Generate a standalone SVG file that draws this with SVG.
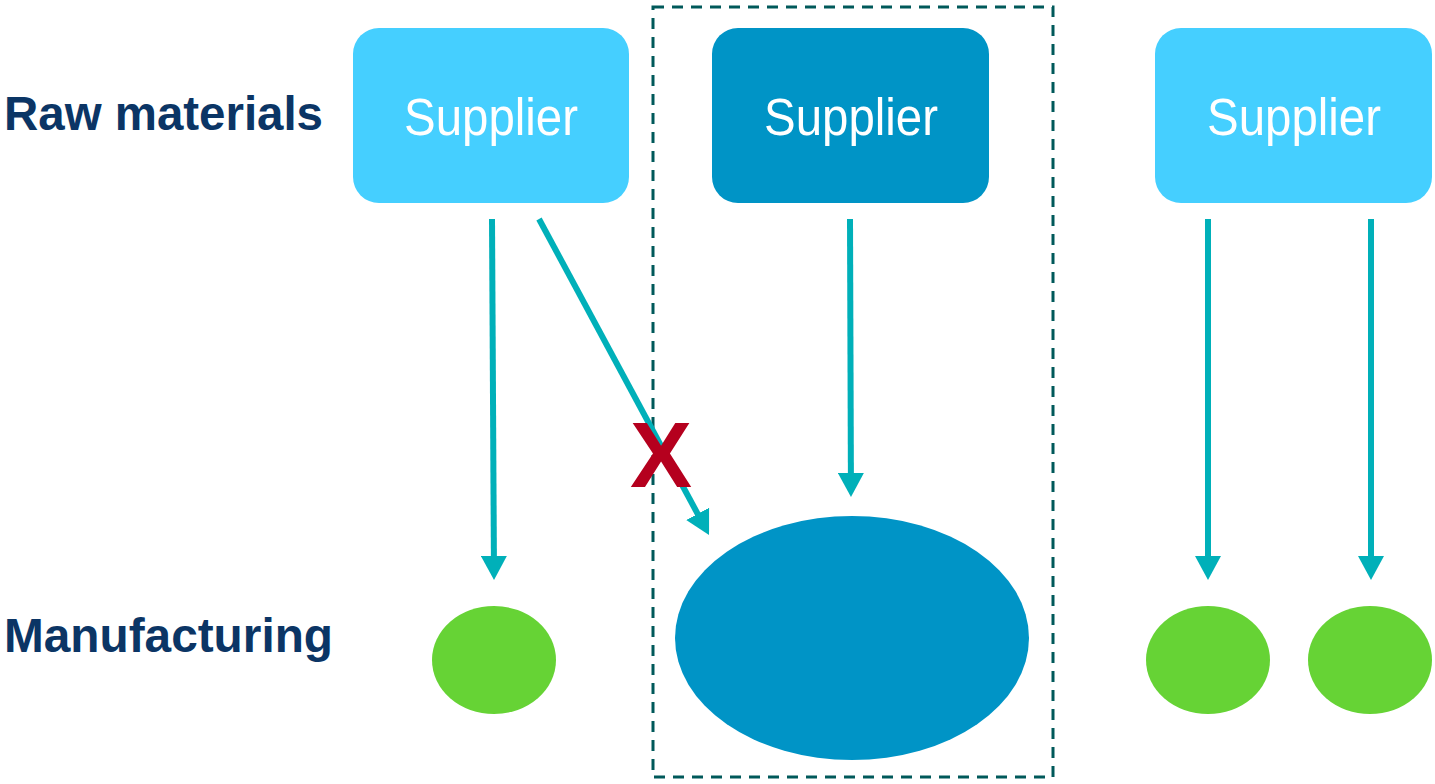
<svg xmlns="http://www.w3.org/2000/svg" width="1435" height="784" viewBox="0 0 1435 784">
  <defs>
    <style>
      .row-label { font-family: "Liberation Sans", Arial, sans-serif; font-weight: bold; font-size: 48px; fill: #0B3565; }
      .supplier { rx: 26; ry: 26; }
      .light { fill: #45CFFF; }
      .dark { fill: #0094C6; }
      .supplier-text { font-family: "Liberation Sans", Arial, sans-serif; font-size: 51px; fill: #FFFFFF; text-anchor: middle; }
      .plant { fill: #66D335; }
      .flow { stroke: #00B0B9; stroke-width: 6; fill: none; marker-end: url(#head); }
      .scope { fill: none; stroke: #00595A; stroke-width: 3; stroke-dasharray: 11 8; }
      .blocked { font-family: "Liberation Sans", Arial, sans-serif; font-weight: bold; font-size: 93px; fill: #B5001E; text-anchor: middle; }
    </style>
    <marker id="head" markerUnits="userSpaceOnUse" markerWidth="24" markerHeight="26" refX="2" refY="13" orient="auto">
      <path d="M0,0 L24,13 L0,26 z" fill="#00B0B9"/>
    </marker>
  </defs>

  <rect width="1435" height="784" fill="#FFFFFF"/>

  <!-- row labels -->
  <text class="row-label" x="4" y="130" textLength="319" lengthAdjust="spacingAndGlyphs">Raw materials</text>
  <text class="row-label" x="4" y="652" textLength="329" lengthAdjust="spacingAndGlyphs">Manufacturing</text>

  <!-- boundary of the integrated operation -->
  <rect id="scope" class="scope" x="653" y="7" width="400" height="770"/>

  <!-- suppliers -->
  <g id="supplier-1">
    <rect class="supplier light" x="353" y="28" width="276" height="175"/>
    <text class="supplier-text" x="491" y="135" textLength="174" lengthAdjust="spacingAndGlyphs">Supplier</text>
  </g>
  <g id="supplier-2">
    <rect class="supplier dark" x="712" y="28" width="277" height="175"/>
    <text class="supplier-text" x="851" y="135" textLength="174" lengthAdjust="spacingAndGlyphs">Supplier</text>
  </g>
  <g id="supplier-3">
    <rect class="supplier light" x="1155" y="28" width="277" height="175"/>
    <text class="supplier-text" x="1294" y="135" textLength="174" lengthAdjust="spacingAndGlyphs">Supplier</text>
  </g>

  <!-- manufacturers -->
  <g id="plant-1"><ellipse class="plant" cx="494" cy="660" rx="62" ry="54"/></g>
  <g id="plant-main"><ellipse class="dark" cx="852" cy="638" rx="177" ry="122"/></g>
  <g id="plant-3"><ellipse class="plant" cx="1208" cy="660" rx="62" ry="54"/></g>
  <g id="plant-4"><ellipse class="plant" cx="1370" cy="660" rx="62" ry="54"/></g>

  <!-- supply flows -->
  <g id="connectors">
    <line class="flow" x1="492" y1="219" x2="493.9" y2="558"/>
    <line class="flow" x1="539" y1="219" x2="698.6" y2="515.6"/>
    <line class="flow" x1="850" y1="219" x2="850.9" y2="475"/>
    <line class="flow" x1="1208" y1="219" x2="1208" y2="558"/>
    <line class="flow" x1="1371" y1="219" x2="1371" y2="558"/>
  </g>

  <!-- blocked flow mark -->
  <text id="blocked" class="blocked" x="661" y="487">X</text>
</svg>
